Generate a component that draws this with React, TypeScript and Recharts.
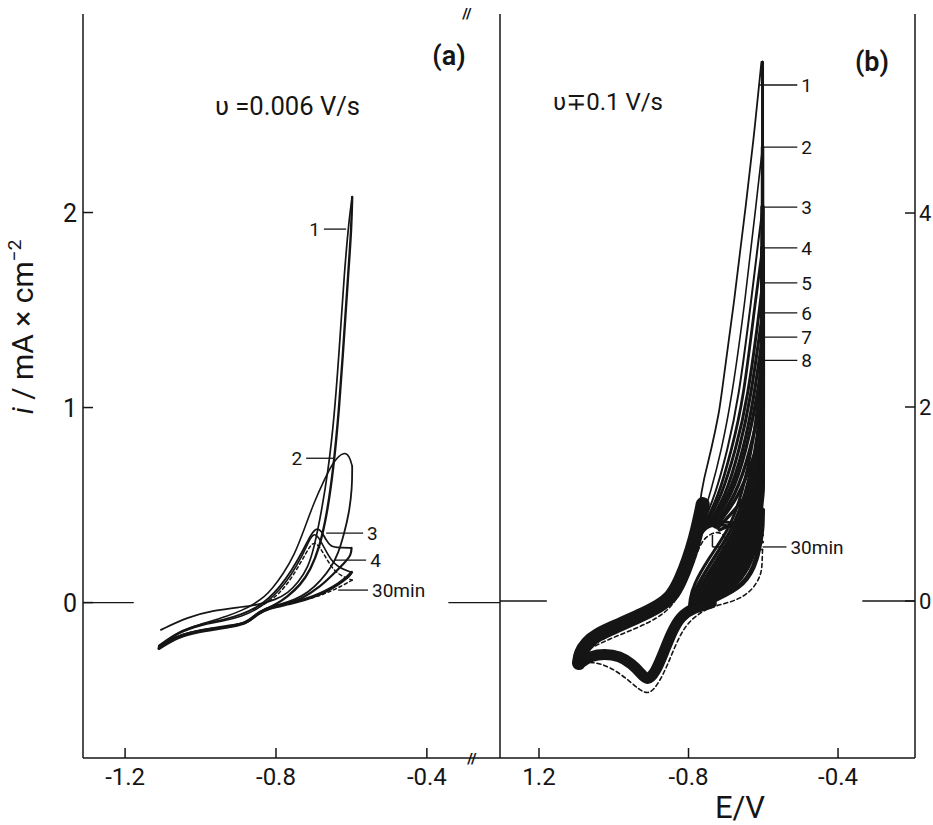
import React from 'react';
import { LineChart, Line, XAxis, YAxis, ReferenceLine } from 'recharts';

type Pt = { E: number; i: number };
const toPts = (rows: number[][]): Pt[] => rows.map(([E, i]) => ({ E, i }));

const INK = '#151515';
const FONT = 'Roboto, "DejaVu Sans", sans-serif';
const AXIS_LINE = { stroke: INK, strokeWidth: 1.5 };

// ---------- axes ----------
const E_TICKS = [-1.2, -0.8, -0.4];
const A_E_DOMAIN = [-1.3116, -0.2061];
const A_I_DOMAIN = [-0.797, 3.018];
const A_I_TICKS = [0, 1, 2];
const A_E_LABELS = ['-1.2', '-0.8', '-0.4'];

const B_E_DOMAIN = [-1.3043, -0.1941];
const B_I_DOMAIN = [-1.619, 6.052];
const B_I_TICKS = [0, 2, 4];
const B_E_LABELS = ['1.2', '-0.8', '-0.4'];

// ---------- (a) v = 0.006 V/s, potential in V, current in mA cm-2 ----------
const A_SCAN1_UP = toPts([
  [-1.105, -0.14], [-1.035, -0.075], [-0.965, -0.04], [-0.893, -0.023], [-0.848, -0.012],
  [-0.8, 0.015], [-0.768, 0.05], [-0.742, 0.1], [-0.715, 0.18], [-0.699, 0.28], [-0.68, 0.46],
  [-0.662, 0.67], [-0.646, 0.94], [-0.632, 1.3], [-0.619, 1.69], [-0.606, 1.97], [-0.598, 2.08],
]);
const A_SCAN1_DOWN = toPts([
  [-0.598, 2.08], [-0.6, 1.92], [-0.608, 1.7], [-0.62, 1.35], [-0.633, 0.98], [-0.648, 0.68],
  [-0.665, 0.45], [-0.685, 0.28], [-0.708, 0.17], [-0.735, 0.09], [-0.77, 0.03], [-0.8, -0.01],
  [-0.83, -0.035], [-0.85, -0.06], [-0.87, -0.095], [-0.89, -0.11], [-0.93, -0.12], [-0.98, -0.135],
  [-1.03, -0.155], [-1.07, -0.18], [-1.11, -0.225],
]);
const A_SCAN2_UP = toPts([
  [-1.11, -0.225], [-1.07, -0.165], [-1.03, -0.13], [-0.98, -0.1], [-0.93, -0.07], [-0.89, -0.04],
  [-0.86, -0.01], [-0.83, 0.03], [-0.81, 0.07], [-0.78, 0.15], [-0.752, 0.24], [-0.726, 0.37],
  [-0.7, 0.51], [-0.672, 0.63], [-0.646, 0.73], [-0.619, 0.775], [-0.605, 0.75], [-0.598, 0.7],
]);
const A_SCAN2_DOWN = toPts([
  [-0.598, 0.7], [-0.598, 0.59], [-0.606, 0.46], [-0.619, 0.356], [-0.635, 0.25], [-0.654, 0.18],
  [-0.68, 0.115], [-0.715, 0.05], [-0.75, 0.015], [-0.79, -0.01], [-0.83, -0.03], [-0.855, -0.06],
  [-0.875, -0.1], [-0.9, -0.115], [-0.95, -0.13], [-1.0, -0.145], [-1.05, -0.17], [-1.08, -0.19],
  [-1.11, -0.23],
]);
const A_SCAN3_UP = toPts([
  [-1.11, -0.22], [-1.06, -0.15], [-1.0, -0.11], [-0.94, -0.09], [-0.89, -0.06], [-0.85, -0.025],
  [-0.82, 0.02], [-0.79, 0.08], [-0.76, 0.16], [-0.73, 0.26], [-0.71, 0.34], [-0.694, 0.385],
  [-0.68, 0.37], [-0.667, 0.32], [-0.655, 0.285], [-0.63, 0.282], [-0.6, 0.28],
]);
const A_SCAN3_DOWN = toPts([
  [-0.6, 0.28], [-0.6, 0.245], [-0.62, 0.2], [-0.646, 0.15], [-0.68, 0.085], [-0.734, 0.015],
  [-0.78, -0.01], [-0.82, -0.03], [-0.85, -0.06], [-0.875, -0.1], [-0.9, -0.115], [-0.95, -0.13],
  [-1.0, -0.14], [-1.05, -0.165], [-1.085, -0.195], [-1.11, -0.23],
]);
const A_SCAN4_UP = toPts([
  [-1.11, -0.225], [-1.06, -0.155], [-1.0, -0.115], [-0.94, -0.095], [-0.89, -0.07], [-0.85, -0.035],
  [-0.82, 0.01], [-0.79, 0.065], [-0.76, 0.14], [-0.73, 0.24], [-0.712, 0.32], [-0.7, 0.355],
  [-0.688, 0.34], [-0.672, 0.28], [-0.655, 0.22], [-0.635, 0.18], [-0.6, 0.155],
]);
const A_SCAN4_DOWN = toPts([
  [-0.6, 0.155], [-0.61, 0.13], [-0.635, 0.095], [-0.665, 0.06], [-0.7, 0.03], [-0.75, 0.0],
  [-0.8, -0.02], [-0.835, -0.04], [-0.86, -0.075], [-0.88, -0.105], [-0.91, -0.12], [-0.96, -0.135],
  [-1.01, -0.15], [-1.06, -0.175], [-1.11, -0.235],
]);
const A_SCAN30_UP = toPts([
  [-0.86, -0.035], [-0.82, 0.0], [-0.79, 0.05], [-0.76, 0.12], [-0.73, 0.22], [-0.71, 0.29],
  [-0.699, 0.31], [-0.685, 0.29], [-0.665, 0.22], [-0.645, 0.16], [-0.62, 0.13], [-0.598, 0.115],
]);
const A_SCAN30_DOWN = toPts([
  [-0.598, 0.115], [-0.635, 0.075], [-0.67, 0.045], [-0.71, 0.02], [-0.76, 0.0], [-0.8, -0.015],
]);

// ---------- (b) v = 0.1 V/s ----------
// overlapping traces of the later cycles
const B_ANODIC_BUNDLE = toPts([
  [-1.093, -0.64], [-1.09, -0.54], [-1.072, -0.433], [-1.046, -0.351], [-0.998, -0.268],
  [-0.931, -0.155], [-0.878, -0.052], [-0.845, 0.041], [-0.821, 0.216], [-0.8, 0.423],
  [-0.782, 0.649], [-0.77, 0.85], [-0.762, 1.0],
]);
const B_CATHODIC_BUNDLE = toPts([
  [-1.093, -0.64], [-1.085, -0.63], [-1.062, -0.567], [-1.025, -0.546], [-0.984, -0.567],
  [-0.952, -0.649], [-0.928, -0.742], [-0.91, -0.83], [-0.888, -0.732], [-0.867, -0.536],
  [-0.845, -0.32], [-0.821, -0.155], [-0.787, -0.072], [-0.739, -0.021],
]);

// forward sweeps up to the -0.6 V vertex (cycles 1-12, then two later ones)
const B_UP_1 = toPts([[-0.776, 0.732], [-0.771, 0.99], [-0.76, 1.247], [-0.739, 1.557], [-0.717, 1.969], [-0.714, 2.072], [-0.677, 3.103], [-0.645, 4.134], [-0.624, 4.825], [-0.605, 5.557]]);
const B_UP_2 = toPts([[-0.771, 0.753], [-0.739, 1.144], [-0.712, 1.557], [-0.685, 2.072], [-0.648, 3.103], [-0.618, 4.134], [-0.602, 4.68]]);
const B_UP_3 = toPts([[-0.765, 0.763], [-0.728, 1.093], [-0.696, 1.557], [-0.666, 2.072], [-0.632, 3.103], [-0.602, 4.062]]);
const B_UP_4 = toPts([[-0.76, 0.773], [-0.72, 1.072], [-0.685, 1.557], [-0.653, 2.072], [-0.621, 3.103], [-0.602, 3.639]]);
const B_UP_5 = toPts([[-0.755, 0.784], [-0.712, 1.072], [-0.674, 1.557], [-0.642, 2.072], [-0.61, 3.0], [-0.602, 3.278]]);
const B_UP_6 = toPts([[-0.749, 0.784], [-0.701, 1.072], [-0.664, 1.557], [-0.634, 2.072], [-0.602, 2.969]]);
const B_UP_7 = toPts([[-0.744, 0.784], [-0.693, 1.072], [-0.653, 1.557], [-0.626, 2.072], [-0.602, 2.722]]);
const B_UP_8 = toPts([[-0.739, 0.784], [-0.685, 1.072], [-0.645, 1.557], [-0.618, 2.072], [-0.602, 2.485]]);
const B_UP_9 = toPts([[-0.733, 0.773], [-0.674, 1.072], [-0.634, 1.557], [-0.602, 2.124]]);
const B_UP_10 = toPts([[-0.728, 0.763], [-0.664, 1.072], [-0.624, 1.505], [-0.602, 1.763]]);
const B_UP_11 = toPts([[-0.722, 0.753], [-0.65, 1.041], [-0.602, 1.351]]);
const B_UP_12 = toPts([[-0.717, 0.732], [-0.658, 0.835], [-0.602, 0.938]]);
const B_UP_13 = toPts([[-0.789, 0.526], [-0.771, 0.711], [-0.749, 0.794], [-0.717, 0.825], [-0.677, 0.804], [-0.637, 0.753], [-0.602, 0.68]]);
const B_UP_14 = toPts([[-0.784, 0.546], [-0.763, 0.732], [-0.739, 0.784], [-0.704, 0.794], [-0.65, 0.711], [-0.602, 0.608]]);

// reverse sweeps of cycles 1-12 from the vertex back into the bundle
const B_DOWN_1 = toPts([[-0.602, 5.557], [-0.602, 3.8], [-0.602, 2.072], [-0.658, 1.041], [-0.698, 0.701], [-0.749, 0.423], [-0.787, 0.165], [-0.797, 0.01], [-0.797, -0.093]]);
const B_DOWN_2 = toPts([[-0.602, 4.68], [-0.602, 3.2], [-0.602, 1.814], [-0.65, 1.041], [-0.688, 0.701], [-0.736, 0.423], [-0.776, 0.165], [-0.795, 0.01], [-0.797, -0.093]]);
const B_DOWN_3 = toPts([[-0.602, 4.062], [-0.602, 2.9], [-0.602, 1.66], [-0.642, 1.041], [-0.677, 0.701], [-0.723, 0.423], [-0.765, 0.165], [-0.789, 0.01], [-0.797, -0.093]]);
const B_DOWN_4 = toPts([[-0.602, 3.639], [-0.602, 2.6], [-0.602, 1.505], [-0.634, 1.041], [-0.669, 0.701], [-0.709, 0.423], [-0.755, 0.165], [-0.784, 0.01], [-0.797, -0.093]]);
const B_DOWN_5 = toPts([[-0.602, 3.278], [-0.602, 2.3], [-0.602, 1.402], [-0.629, 1.041], [-0.661, 0.701], [-0.696, 0.423], [-0.744, 0.165], [-0.779, 0.01], [-0.797, -0.093]]);
const B_DOWN_6 = toPts([[-0.602, 2.969], [-0.602, 2.1], [-0.602, 1.351], [-0.624, 1.041], [-0.653, 0.701], [-0.682, 0.423], [-0.733, 0.165], [-0.773, 0.01], [-0.797, -0.093]]);
const B_DOWN_7 = toPts([[-0.602, 2.722], [-0.602, 2.0], [-0.602, 1.299], [-0.618, 1.041], [-0.645, 0.701], [-0.672, 0.423], [-0.723, 0.165], [-0.768, 0.01], [-0.797, -0.093]]);
const B_DOWN_8 = toPts([[-0.602, 2.485], [-0.602, 1.85], [-0.602, 1.247], [-0.613, 1.041], [-0.637, 0.701], [-0.661, 0.423], [-0.712, 0.165], [-0.763, 0.01], [-0.797, -0.093]]);
const B_DOWN_9 = toPts([[-0.602, 2.124], [-0.602, 1.65], [-0.602, 1.196], [-0.61, 1.041], [-0.629, 0.701], [-0.65, 0.423], [-0.698, 0.165], [-0.757, 0.01], [-0.797, -0.093]]);
const B_DOWN_10 = toPts([[-0.602, 1.763], [-0.602, 1.45], [-0.602, 1.144], [-0.608, 1.041], [-0.621, 0.701], [-0.64, 0.423], [-0.685, 0.165], [-0.749, 0.01], [-0.797, -0.093]]);
const B_DOWN_11 = toPts([[-0.602, 1.351], [-0.602, 1.113], [-0.605, 1.041], [-0.613, 0.701], [-0.629, 0.423], [-0.669, 0.165], [-0.741, 0.01], [-0.797, -0.093]]);
const B_DOWN_12 = toPts([[-0.602, 0.938], [-0.603, 0.75], [-0.605, 0.701], [-0.616, 0.423], [-0.648, 0.165], [-0.728, 0.01], [-0.797, -0.093]]);

// cycle after 30 min (dashed)
const B_SCAN30_UP = toPts([
  [-1.097, -0.577], [-1.073, -0.505], [-1.006, -0.381], [-0.936, -0.278], [-0.883, -0.175],
  [-0.848, -0.072], [-0.821, 0.093], [-0.795, 0.309], [-0.776, 0.515], [-0.76, 0.639],
  [-0.741, 0.691], [-0.722, 0.715], [-0.704, 0.68], [-0.696, 0.608], [-0.65, 0.54], [-0.602, 0.53],
]);
const B_SCAN30_DOWN = toPts([
  [-0.602, 0.53], [-0.603, 0.4], [-0.605, 0.268], [-0.629, 0.113], [-0.664, 0.021], [-0.698, -0.021],
  [-0.739, -0.062], [-0.771, -0.124], [-0.808, -0.247], [-0.835, -0.454], [-0.856, -0.66],
  [-0.878, -0.835], [-0.904, -0.97], [-0.931, -0.918], [-0.958, -0.825], [-0.993, -0.722],
  [-1.03, -0.649], [-1.065, -0.629], [-1.097, -0.639],
]);

const B_UPS = [B_UP_1, B_UP_2, B_UP_3, B_UP_4, B_UP_5, B_UP_6, B_UP_7, B_UP_8, B_UP_9, B_UP_10, B_UP_11, B_UP_12, B_UP_13, B_UP_14];
const B_DOWNS = [B_DOWN_1, B_DOWN_2, B_DOWN_3, B_DOWN_4, B_DOWN_5, B_DOWN_6, B_DOWN_7, B_DOWN_8, B_DOWN_9, B_DOWN_10, B_DOWN_11, B_DOWN_12];
// early sweeps stay as single lines; later ones pile up into a solid band
const B_UP_WIDTHS = [1.8, 1.6, 2, 2.8, 3, 3.1, 3.2, 3.3, 3.4, 3.4, 3.4, 3.4, 3, 3];
const B_DOWN_WIDTHS = [3, 3.5, 4.5, 5, 5, 5, 5, 5, 5, 5, 5, 5];

// cycle labels with their leader lines (current level, potential span)
const A_TAGS = [
  { text: '1', i: 1.915, e0: -0.673, e1: -0.614 },
  { text: '2', i: 0.74, e0: -0.72, e1: -0.646 },
];
const A_TAGS_RIGHT = [
  { text: '3', i: 0.356, e0: -0.667, e1: -0.569 },
  { text: '4', i: 0.218, e0: -0.646, e1: -0.561 },
  { text: '30min', i: 0.064, e0: -0.635, e1: -0.556 },
];
const B_TAGS = [
  { text: '1', i: 5.32, e0: -0.61, e1: -0.509 },
  { text: '2', i: 4.68, e0: -0.603, e1: -0.509 },
  { text: '3', i: 4.06, e0: -0.603, e1: -0.509 },
  { text: '4', i: 3.64, e0: -0.603, e1: -0.509 },
  { text: '5', i: 3.28, e0: -0.603, e1: -0.509 },
  { text: '6', i: 2.97, e0: -0.603, e1: -0.509 },
  { text: '7', i: 2.72, e0: -0.603, e1: -0.509 },
  { text: '8', i: 2.48, e0: -0.603, e1: -0.509 },
  { text: '30min', i: 0.557, e0: -0.602, e1: -0.538 },
];

// ---------- ticks ----------
function LeftTick(props: any) {
  const { x, y, payload } = props;
  return (
    <g>
      <line x1={x} y1={y} x2={x + 10} y2={y} stroke={INK} strokeWidth={1.5} />
      <text x={x - 6} y={y + 9} textAnchor="end" fontSize={25} fontFamily={FONT} fill={INK}>
        {payload.value}
      </text>
    </g>
  );
}

function RightTick(props: any) {
  const { x, y, payload } = props;
  return (
    <g>
      <line x1={x} y1={y} x2={x - 10} y2={y} stroke={INK} strokeWidth={1.5} />
      <text x={x + 4} y={y + 8} textAnchor="start" fontSize={22} fontFamily={FONT} fill={INK}>
        {payload.value}
      </text>
    </g>
  );
}

function TopTick(props: any) {
  const { x, y } = props;
  return <line x1={x} y1={y} x2={x} y2={y + 10} stroke={INK} strokeWidth={1.5} />;
}

const bottomTick = (labels: string[]) => (props: any) => {
  const { x, y, index } = props;
  return (
    <g>
      <line x1={x} y1={y} x2={x} y2={y - 10} stroke={INK} strokeWidth={1.5} />
      <text x={x} y={y + 27} textAnchor="middle" fontSize={24} fontFamily={FONT} fill={INK}>
        {labels[index]}
      </text>
    </g>
  );
};

// ---------- helpers ----------
const trace = (key: string, data: Pt[], width: number, dash?: string) => (
  <Line
    key={key}
    data={data}
    dataKey="i"
    type="basis"
    stroke={INK}
    strokeWidth={width}
    strokeDasharray={dash}
    strokeLinecap="round"
    strokeLinejoin="round"
    dot={false}
    activeDot={false}
    isAnimationActive={false}
  />
);

const zeroMark = (key: string, e0: number, e1: number) => (
  <ReferenceLine
    key={key}
    segment={[{ x: e0, y: 0 }, { x: e1, y: 0 }]}
    stroke={INK}
    strokeWidth={1.3}
  />
);

const tag = (key: string, t: { text: string; i: number; e0: number; e1: number }, side: 'left' | 'right') => (
  <ReferenceLine
    key={key}
    segment={[{ x: t.e0, y: t.i }, { x: t.e1, y: t.i }]}
    stroke={INK}
    strokeWidth={1.3}
    label={{ value: t.text, position: side, offset: 4, fontSize: 19, fill: INK, fontFamily: FONT }}
  />
);

function PanelA() {
  return (
    <LineChart width={502} height={825} margin={{ top: 14, right: 2, bottom: 17, left: 23 }}>
      <XAxis
        type="number" dataKey="E" domain={A_E_DOMAIN} allowDataOverflow ticks={E_TICKS} interval={0}
        height={50} tickSize={0} tickMargin={0} tickLine={false} tick={bottomTick(A_E_LABELS)} axisLine={AXIS_LINE}
      />
      <XAxis
        xAxisId="top" orientation="top" type="number" domain={A_E_DOMAIN} allowDataOverflow ticks={E_TICKS}
        interval={0} height={0} tickSize={0} tickMargin={0} tickLine={false} tick={TopTick} axisLine={AXIS_LINE}
      />
      <YAxis
        type="number" domain={A_I_DOMAIN} allowDataOverflow ticks={A_I_TICKS} interval={0} width={60}
        tickSize={0} tickMargin={0} tickLine={false} tick={LeftTick} axisLine={AXIS_LINE}
      />
      <ReferenceLine x={A_E_DOMAIN[1]} stroke={INK} strokeWidth={1.5} ifOverflow="visible" />
      {zeroMark('z0', A_E_DOMAIN[0], -1.177)}
      {zeroMark('z1', -0.343, A_E_DOMAIN[1])}

      {trace('a1u', A_SCAN1_UP, 1.7)}
      {trace('a1d', A_SCAN1_DOWN, 2.4)}
      {trace('a2u', A_SCAN2_UP, 1.6)}
      {trace('a2d', A_SCAN2_DOWN, 1.8)}
      {trace('a3u', A_SCAN3_UP, 1.8)}
      {trace('a3d', A_SCAN3_DOWN, 2.2)}
      {trace('a4u', A_SCAN4_UP, 1.6)}
      {trace('a4d', A_SCAN4_DOWN, 3.2)}
      {trace('a30u', A_SCAN30_UP, 1.5, '3 3')}
      {trace('a30d', A_SCAN30_DOWN, 1.5, '3 3')}

      {A_TAGS.map((t, k) => tag(`al${k}`, t, 'left'))}
      {A_TAGS_RIGHT.map((t, k) => tag(`ar${k}`, t, 'right'))}
    </LineChart>
  );
}

function PanelB() {
  return (
    <LineChart width={493} height={825} margin={{ top: 14, right: 0, bottom: 17, left: 60 }}>
      <XAxis
        type="number" dataKey="E" domain={B_E_DOMAIN} allowDataOverflow ticks={E_TICKS} interval={0}
        height={50} tickSize={0} tickMargin={0} tickLine={false} tick={bottomTick(B_E_LABELS)} axisLine={AXIS_LINE}
      />
      <XAxis
        xAxisId="top" orientation="top" type="number" domain={B_E_DOMAIN} allowDataOverflow ticks={E_TICKS}
        interval={0} height={0} tickSize={0} tickMargin={0} tickLine={false} tick={TopTick} axisLine={AXIS_LINE}
      />
      <YAxis
        orientation="right" type="number" domain={B_I_DOMAIN} allowDataOverflow ticks={B_I_TICKS} interval={0}
        width={18} tickSize={0} tickMargin={0} tickLine={false} tick={RightTick} axisLine={AXIS_LINE}
      />
      {zeroMark('z0', B_E_DOMAIN[0], -1.179)}
      {zeroMark('z1', -0.335, B_E_DOMAIN[1])}

      {trace('bandUp', B_ANODIC_BUNDLE, 14)}
      {trace('bandDown', B_CATHODIC_BUNDLE, 11)}
      {B_DOWNS.map((d, k) => trace(`bd${k}`, d, B_DOWN_WIDTHS[k]))}
      {B_UPS.map((d, k) => trace(`bu${k}`, d, B_UP_WIDTHS[k]))}
      {trace('b30u', B_SCAN30_UP, 1.6, '4 3')}
      {trace('b30d', B_SCAN30_DOWN, 1.6, '4 3')}

      <ReferenceLine segment={[{ x: -0.736, y: 0.68 }, { x: -0.736, y: 0.557 }]} stroke={INK} strokeWidth={1.5} />
      <ReferenceLine segment={[{ x: -0.736, y: 0.557 }, { x: -0.698, y: 0.557 }]} stroke={INK} strokeWidth={1.5} />
      {B_TAGS.map((t, k) => tag(`bl${k}`, t, 'right'))}
    </LineChart>
  );
}

function Annotations() {
  return (
    <svg
      width={933}
      height={825}
      style={{ position: 'absolute', left: 0, top: 0, pointerEvents: 'none' }}
      fontFamily={FONT}
      fill={INK}
    >
      <text transform="translate(33,327) rotate(-90)" textAnchor="middle" fontSize={30}>
        <tspan fontStyle="italic">i</tspan> / mA × cm<tspan fontSize={19} dy={-12}>−2</tspan>
      </text>
      <text x={449} y={65} textAnchor="middle" fontSize={27} fontWeight={600}>(a)</text>
      <text x={215} y={115} fontSize={25} textLength={145} lengthAdjust="spacingAndGlyphs">υ =0.006 V/s</text>
      <text x={872} y={71} textAnchor="middle" fontSize={27} fontWeight={600}>(b)</text>
      <text x={553} y={110} fontSize={24} textLength={110} lengthAdjust="spacingAndGlyphs">υ∓0.1 V/s</text>
      <text x={740} y={818} textAnchor="middle" fontSize={31}>E/V</text>
      <text x={467} y={19} textAnchor="middle" fontSize={15} fontWeight={700}>//</text>
      <text x={472} y={764} textAnchor="middle" fontSize={15} fontWeight={700}>//</text>
    </svg>
  );
}

export default function App() {
  return (
    <div
      style={{
        position: 'absolute', left: 0, top: 0, width: 933, height: 825,
        background: '#fff', overflow: 'hidden', fontFamily: FONT,
      }}
    >
      <div style={{ position: 'absolute', left: 0, top: 0 }}>
        <PanelA />
      </div>
      <div style={{ position: 'absolute', left: 440, top: 0 }}>
        <PanelB />
      </div>
      <Annotations />
    </div>
  );
}
